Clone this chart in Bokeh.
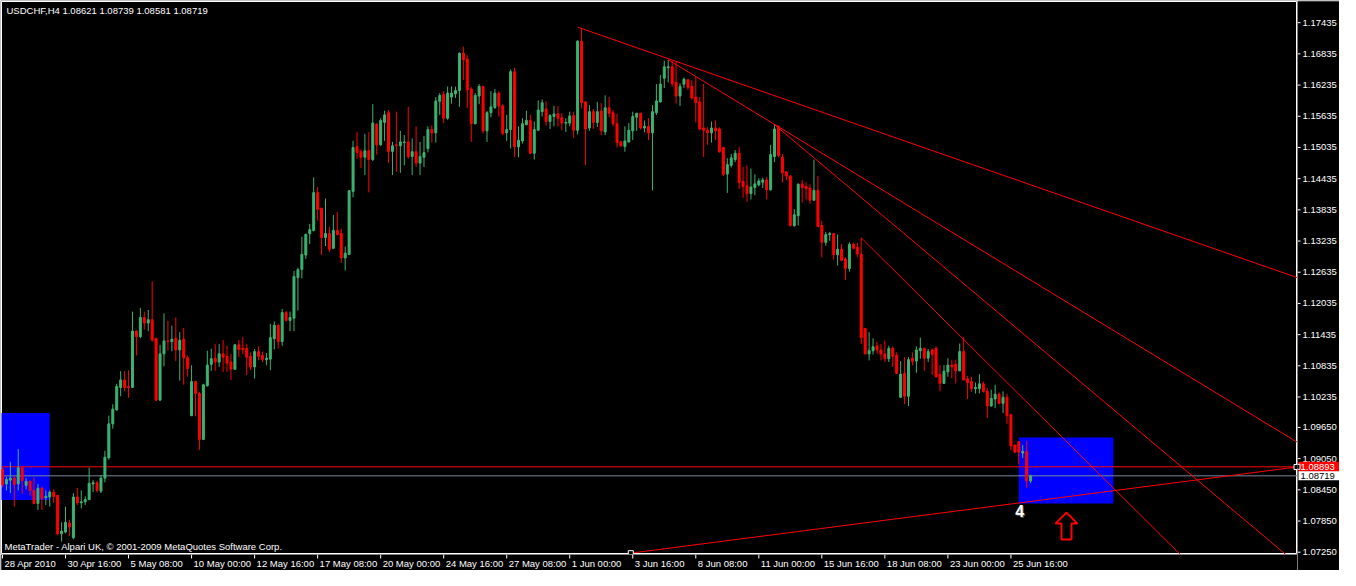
import pandas as pd
from bokeh.plotting import figure
from bokeh.layouts import column, row
from bokeh.models import Range1d, Label, ColumnDataSource
from bokeh.core.properties import value
from bokeh.embed import file_html
from bokeh.resources import INLINE

symbol = "USDCHF,H4"
copyright_text = "MetaTrader - Alpari UK, \u00a9 2001-2009 MetaQuotes Software Corp."

opens = [
    1.08843, 1.08562, 1.08637, 1.08675, 1.08562, 1.08875, 1.08537, 1.08613, 1.08438, 1.08187,
    1.08481, 1.08299, 1.08312, 1.08406, 1.08344, 1.07605, 1.07637, 1.07811, 1.07530, 1.08312,
    1.08200, 1.08219, 1.08262, 1.08562, 1.08588, 1.08425, 1.08675, 1.09063, 1.09719, 1.09988,
    1.10419, 1.10564, 1.10438, 1.10419, 1.11502, 1.11395, 1.11764, 1.11657, 1.11721, 1.11357,
    1.10175, 1.11065, 1.11314, 1.11301, 1.11365, 1.11140, 1.11346, 1.10989, 1.09875, 1.10532,
    1.10302, 1.09419, 1.10451, 1.10864, 1.10982, 1.10907, 1.11065, 1.11014, 1.10907, 1.10770,
    1.11239, 1.11170, 1.11170, 1.11014, 1.10813, 1.11108, 1.11033, 1.10952, 1.10963, 1.11357,
    1.11614, 1.11301, 1.11858, 1.11708, 1.11751, 1.12533, 1.12689, 1.12965, 1.13378, 1.13439,
    1.14166, 1.13865, 1.13303, 1.13378, 1.13096, 1.13439, 1.13378, 1.12909, 1.12978, 1.14190,
    1.15047, 1.14953, 1.14847, 1.14972, 1.14803, 1.15484, 1.15085, 1.15516, 1.15704, 1.14959,
    1.15085, 1.15066, 1.15128, 1.15141, 1.14860, 1.14953, 1.14734, 1.14847, 1.15015, 1.15379,
    1.15316, 1.15923, 1.16055, 1.15597, 1.16004, 1.16066, 1.16130, 1.16848, 1.16736, 1.16154,
    1.15492, 1.16023, 1.16210, 1.15354, 1.15704, 1.15803, 1.16079, 1.15835, 1.15316, 1.15379,
    1.16492, 1.15047, 1.15160, 1.15473, 1.15554, 1.14922, 1.15366, 1.15723, 1.15773, 1.15535,
    1.15629, 1.15680, 1.15604, 1.15503, 1.15503, 1.15648, 1.15366, 1.17079, 1.15910, 1.15409,
    1.15723, 1.15516, 1.15736, 1.15334, 1.15798, 1.15704, 1.15492, 1.15141, 1.15053, 1.15141,
    1.15354, 1.15616, 1.15691, 1.15409, 1.15441, 1.15316, 1.15704, 1.15910, 1.16366, 1.16567,
    1.16586, 1.16286, 1.16023, 1.16253, 1.16336, 1.16210, 1.16004, 1.15910, 1.15409, 1.15366,
    1.15316, 1.15409, 1.15391, 1.15034, 1.14522, 1.14691, 1.14803, 1.14922, 1.14378, 1.14297,
    1.14147, 1.14265, 1.14316, 1.14366, 1.14409, 1.14222, 1.14860, 1.15441, 1.14847, 1.14565,
    1.14484, 1.13528, 1.13721, 1.14329, 1.14284, 1.14254, 1.14021, 1.14209, 1.13533, 1.13209,
    1.13359, 1.13378, 1.12971, 1.13077, 1.12890, 1.12708, 1.13171, 1.13115, 1.12984, 1.11552,
    1.11065, 1.11126, 1.11220, 1.11140, 1.11065, 1.10971, 1.11170, 1.11033, 1.10231, 1.10689,
    1.10250, 1.10982, 1.10926, 1.11126, 1.11170, 1.10982, 1.11140, 1.11170, 1.10671, 1.10497,
    1.10719, 1.10849, 1.10864, 1.10738, 1.11108, 1.10582, 1.10532, 1.10395, 1.10395, 1.10489,
    1.10344, 1.10063, 1.10196, 1.10289, 1.10113, 1.10231, 1.09894, 1.09312, 1.09376, 1.09157,
    1.09188, 1.08621,
]
highs = [
    1.08875, 1.08701, 1.08988, 1.08719, 1.09232, 1.08888, 1.08675, 1.08637, 1.08688, 1.08562,
    1.08513, 1.08438, 1.08438, 1.08457, 1.08350, 1.07825, 1.08125, 1.07875, 1.08387, 1.08487,
    1.08438, 1.08325, 1.08875, 1.08637, 1.08626, 1.08738, 1.09200, 1.09875, 1.10095, 1.10489,
    1.10732, 1.10732, 1.10751, 1.11877, 1.11520, 1.11952, 1.11877, 1.11909, 1.12458, 1.11376,
    1.11239, 1.11845, 1.11702, 1.11608, 1.11764, 1.11483, 1.11564, 1.11033, 1.10845, 1.10551,
    1.10334, 1.10489, 1.11126, 1.11164, 1.11258, 1.11252, 1.11333, 1.11220, 1.11065, 1.11252,
    1.11333, 1.11389, 1.11252, 1.11095, 1.11158, 1.11208, 1.11108, 1.11083, 1.11644, 1.11689,
    1.11646, 1.11928, 1.11890, 1.11877, 1.12659, 1.12721, 1.13316, 1.13378, 1.13565, 1.14460,
    1.14273, 1.13879, 1.14053, 1.13503, 1.13734, 1.13796, 1.13471, 1.13128, 1.14215, 1.15160,
    1.15329, 1.15001, 1.15297, 1.15329, 1.15867, 1.15503, 1.15597, 1.15741, 1.15754, 1.15141,
    1.15723, 1.15354, 1.15272, 1.15816, 1.15210, 1.15441, 1.15141, 1.15254, 1.15441, 1.15460,
    1.16004, 1.16079, 1.16117, 1.16205, 1.16210, 1.16205, 1.16860, 1.16974, 1.16805, 1.16192,
    1.16079, 1.16253, 1.16223, 1.15736, 1.16117, 1.16160, 1.16117, 1.15867, 1.15661, 1.16535,
    1.16567, 1.15441, 1.15597, 1.15741, 1.15661, 1.15535, 1.15942, 1.15961, 1.15923, 1.15674,
    1.15835, 1.15830, 1.15691, 1.15597, 1.15723, 1.15723, 1.17098, 1.17317, 1.15920, 1.15848,
    1.15773, 1.15910, 1.15891, 1.16036, 1.16004, 1.15754, 1.15680, 1.15160, 1.15441, 1.15503,
    1.15723, 1.15704, 1.15704, 1.15554, 1.15597, 1.15848, 1.16253, 1.16430, 1.16704, 1.16722,
    1.16704, 1.16693, 1.16266, 1.16379, 1.16347, 1.16329, 1.16398, 1.16004, 1.16253, 1.15422,
    1.15535, 1.15554, 1.15422, 1.15045, 1.14828, 1.14910, 1.14985, 1.15047, 1.14659, 1.14691,
    1.14629, 1.14516, 1.14441, 1.14453, 1.14471, 1.15085, 1.15473, 1.15454, 1.14910, 1.14578,
    1.14503, 1.13847, 1.14340, 1.14409, 1.14366, 1.14329, 1.14803, 1.14484, 1.13627, 1.13410,
    1.13410, 1.13391, 1.13359, 1.13177, 1.12922, 1.13209, 1.13203, 1.13203, 1.13297, 1.11564,
    1.11483, 1.11365, 1.11301, 1.11252, 1.11314, 1.11220, 1.11201, 1.11095, 1.10926, 1.11001,
    1.11001, 1.11095, 1.11208, 1.11376, 1.11183, 1.11158, 1.11170, 1.11208, 1.10845, 1.10849,
    1.10982, 1.10952, 1.10952, 1.11263, 1.11389, 1.10639, 1.10625, 1.10513, 1.10676, 1.10532,
    1.10408, 1.10376, 1.10470, 1.10325, 1.10344, 1.10301, 1.09905, 1.09320, 1.09387, 1.09312,
    1.09387, 1.08739,
]
lows = [
    1.08500, 1.08438, 1.08387, 1.08125, 1.08438, 1.08374, 1.08462, 1.08337, 1.08181, 1.08063,
    1.08063, 1.08157, 1.08125, 1.08200, 1.07575, 1.07455, 1.07613, 1.07562, 1.07500, 1.08157,
    1.08093, 1.08157, 1.08250, 1.08406, 1.08406, 1.08387, 1.08594, 1.09031, 1.09626, 1.09969,
    1.10250, 1.10344, 1.10220, 1.10408, 1.11033, 1.11365, 1.11533, 1.11502, 1.11301, 1.10156,
    1.10170, 1.10826, 1.11126, 1.11113, 1.10926, 1.10551, 1.10470, 1.10625, 1.09869, 1.09864,
    1.09218, 1.09406, 1.10438, 1.10738, 1.10738, 1.10813, 1.10719, 1.10719, 1.10564, 1.10751,
    1.11001, 1.11065, 1.10657, 1.10751, 1.10588, 1.10939, 1.10907, 1.10845, 1.10751, 1.11151,
    1.11170, 1.11220, 1.11689, 1.11502, 1.11502, 1.11896, 1.12515, 1.12890, 1.13177, 1.13420,
    1.13627, 1.12965, 1.13139, 1.13027, 1.13077, 1.13346, 1.12815, 1.12670, 1.12965, 1.14077,
    1.14816, 1.14640, 1.14503, 1.14171, 1.14772, 1.14897, 1.15070, 1.15160, 1.14734, 1.14503,
    1.14565, 1.14547, 1.14691, 1.14816, 1.14503, 1.14659, 1.14503, 1.14659, 1.14940, 1.15128,
    1.15128, 1.15661, 1.15503, 1.15567, 1.15878, 1.15989, 1.15816, 1.16329, 1.15798, 1.15141,
    1.15480, 1.15867, 1.15304, 1.15141, 1.15616, 1.15773, 1.15629, 1.15267, 1.15160, 1.15015,
    1.14847, 1.14847, 1.15109, 1.15460, 1.14910, 1.14803, 1.15354, 1.15629, 1.15454, 1.15391,
    1.15441, 1.15441, 1.15366, 1.15334, 1.15441, 1.15222, 1.15286, 1.15784, 1.14691, 1.15354,
    1.15391, 1.15428, 1.15272, 1.15272, 1.15616, 1.15441, 1.15034, 1.15047, 1.14953, 1.15128,
    1.15179, 1.15354, 1.15379, 1.15329, 1.15179, 1.14209, 1.15661, 1.15900, 1.16178, 1.16286,
    1.16205, 1.15878, 1.15835, 1.16178, 1.16141, 1.15961, 1.15516, 1.15366, 1.14847, 1.15085,
    1.15128, 1.15179, 1.14935, 1.14484, 1.14160, 1.14648, 1.14753, 1.14235, 1.14066, 1.13991,
    1.14034, 1.14115, 1.14284, 1.14254, 1.14034, 1.14203, 1.14753, 1.14847, 1.14359, 1.14409,
    1.13515, 1.13515, 1.13533, 1.13972, 1.14034, 1.13953, 1.14006, 1.13503, 1.12922, 1.13147,
    1.13241, 1.12877, 1.12764, 1.12847, 1.12483, 1.12646, 1.13077, 1.12927, 1.11252, 1.11051,
    1.10939, 1.11051, 1.11065, 1.10939, 1.10907, 1.10907, 1.10813, 1.10676, 1.10220, 1.10095,
    1.10063, 1.10845, 1.10701, 1.10971, 1.10738, 1.10907, 1.10657, 1.10610, 1.10344, 1.10489,
    1.10625, 1.10596, 1.10497, 1.10732, 1.10551, 1.10196, 1.10334, 1.10302, 1.10302, 1.10321,
    1.09832, 1.10048, 1.10020, 1.10095, 1.09926, 1.09719, 1.09218, 1.09157, 1.08937, 1.09063,
    1.08487, 1.08581,
]
closes = [
    1.08543, 1.08650, 1.08675, 1.08551, 1.08875, 1.08626, 1.08613, 1.08438, 1.08187, 1.08481,
    1.08280, 1.08325, 1.08406, 1.08325, 1.07605, 1.07656, 1.07825, 1.07736, 1.08312, 1.08200,
    1.08219, 1.08262, 1.08575, 1.08588, 1.08438, 1.08675, 1.09076, 1.09719, 1.10001, 1.10438,
    1.10564, 1.10419, 1.10419, 1.11502, 1.11395, 1.11764, 1.11657, 1.11721, 1.11333, 1.10175,
    1.11065, 1.11314, 1.11301, 1.11346, 1.11140, 1.11327, 1.10989, 1.10783, 1.10532, 1.10302,
    1.09419, 1.10470, 1.10849, 1.10971, 1.10907, 1.11065, 1.11001, 1.10888, 1.10770, 1.11239,
    1.11151, 1.11151, 1.11001, 1.10813, 1.11108, 1.11020, 1.10958, 1.10982, 1.11376, 1.11614,
    1.11301, 1.11858, 1.11708, 1.11764, 1.12552, 1.12684, 1.12978, 1.13364, 1.13453, 1.14166,
    1.13847, 1.13303, 1.13378, 1.13077, 1.13439, 1.13359, 1.12909, 1.13002, 1.14203, 1.15034,
    1.14940, 1.14847, 1.14972, 1.14803, 1.15503, 1.15085, 1.15554, 1.15661, 1.14959, 1.15066,
    1.15072, 1.15141, 1.15141, 1.14860, 1.14953, 1.14734, 1.14860, 1.14935, 1.15379, 1.15316,
    1.15929, 1.16036, 1.15597, 1.16079, 1.16079, 1.16130, 1.16848, 1.16722, 1.16141, 1.15492,
    1.16036, 1.16210, 1.15354, 1.15704, 1.15816, 1.16079, 1.15830, 1.15304, 1.15379, 1.16492,
    1.15047, 1.15173, 1.15492, 1.15554, 1.14922, 1.15379, 1.15754, 1.15894, 1.15535, 1.15648,
    1.15680, 1.15597, 1.15503, 1.15516, 1.15642, 1.15366, 1.17079, 1.15897, 1.15391, 1.15723,
    1.15516, 1.15723, 1.15354, 1.15798, 1.15691, 1.15492, 1.15128, 1.15066, 1.15160, 1.15366,
    1.15629, 1.15691, 1.15409, 1.15441, 1.15316, 1.15723, 1.15929, 1.16253, 1.16586, 1.16586,
    1.16266, 1.16023, 1.16205, 1.16347, 1.16192, 1.15985, 1.15897, 1.15391, 1.15366, 1.15316,
    1.15409, 1.15354, 1.14953, 1.14516, 1.14704, 1.14835, 1.14922, 1.14359, 1.14284, 1.14147,
    1.14273, 1.14334, 1.14391, 1.14409, 1.14222, 1.14897, 1.15391, 1.14878, 1.14547, 1.14484,
    1.13533, 1.13740, 1.14329, 1.14265, 1.14241, 1.14021, 1.14209, 1.13515, 1.13209, 1.13359,
    1.13378, 1.12971, 1.13077, 1.12865, 1.12708, 1.13171, 1.13096, 1.12989, 1.11376, 1.11065,
    1.11126, 1.11201, 1.11140, 1.11065, 1.10971, 1.11170, 1.11020, 1.10689, 1.10676, 1.10250,
    1.10952, 1.10920, 1.11140, 1.11170, 1.10982, 1.11108, 1.11051, 1.10625, 1.10497, 1.10732,
    1.10849, 1.10813, 1.10738, 1.11108, 1.10564, 1.10513, 1.10395, 1.10419, 1.10489, 1.10344,
    1.10063, 1.10207, 1.10289, 1.10113, 1.10231, 1.09875, 1.09294, 1.09175, 1.09175, 1.09188,
    1.08621, 1.08719,
]

x_tick_labels = ["28 Apr 2010", "30 Apr 16:00", "5 May 08:00", "10 May 00:00", "12 May 16:00",
                 "17 May 08:00", "20 May 00:00", "24 May 16:00", "27 May 08:00", "1 Jun 00:00",
                 "3 Jun 16:00", "8 Jun 08:00", "11 Jun 00:00", "15 Jun 16:00", "18 Jun 08:00",
                 "23 Jun 00:00", "25 Jun 16:00"]
y_ticks = [1.17435, 1.16835, 1.16235, 1.15635, 1.15035, 1.14435, 1.13835, 1.13235, 1.12635,
           1.12035, 1.11435, 1.10835, 1.10235, 1.09650, 1.09050, 1.08450, 1.07850, 1.07250]

# chart objects (bar index / price)
zone_left = [-2, 258]
zone_right = [12, 282]
zone_top = [1.09926, 1.09457]
zone_bottom = [1.08256, 1.08187]

trend_x0 = [146, 169, 196, 218, 159.5]
trend_y0 = [1.17349, 1.16722, 1.15473, 1.13297, 1.07232]
trend_x1 = [340, 340, 330, 300, 328.5]
trend_y1 = [1.12233, 1.08844, 1.06937, 1.07131, 1.08888]

ask_level = 1.08893
bid_level = closes[-1]
wave_label = "4"
wave_x, wave_y = 258.2, 1.08050
arrow_x, arrow_y = 270.1, 1.08012

# ---------------------------------------------------------------
n = len(opens)
days = pd.bdate_range("2010-04-28", "2010-07-02")
bar_times = [d + pd.Timedelta(hours=4 * k) for d in days for k in range(6)][:n]


def label_time(s):
    if s.endswith("2010"):
        return pd.to_datetime(s, format="%d %b %Y")
    return pd.to_datetime(s + " 2010", format="%d %b %H:%M %Y")


x_tick_pos = [bar_times.index(label_time(s)) for s in x_tick_labels]

FW, FH = 1296, 553
RW, BH = 42, 16
X0, X1 = -0.25, 328.75
Y0, Y1 = 1.07206, 1.17842
FONT = "Liberation Sans"
FS = "9.5px"
dxp = (X1 - X0) / FW
dyp = (Y1 - Y0) / FH
common = dict(output_backend="svg", toolbar_location=None, x_axis_location=None,
              y_axis_location=None, background_fill_color="black", border_fill_color="black",
              min_border_left=0, min_border_right=0, min_border_top=0, min_border_bottom=0)

# ---------------- main price panel
p = figure(frame_width=FW, frame_height=FH, x_range=Range1d(X0, X1), y_range=Range1d(Y0, Y1),
           **common)
p.min_border_left = 1
p.min_border_top = 1
p.outline_line_color = "white"
p.outline_line_width = 1
p.grid.visible = False

p.quad(left=zone_left, right=zone_right, top=zone_top, bottom=zone_bottom,
       fill_color="#0000FF", line_color=None)

p.segment(x0=[X0, X0], x1=[X1, X1], y0=[ask_level, bid_level], y1=[ask_level, bid_level],
          line_color=["#FF0000", "#778899"], line_width=1)

up_col, dn_col = "#3CB371", "#FF0000"
src = ColumnDataSource(dict(
    x=list(range(n)), o=opens, h=highs, l=lows, c=closes,
    top=[max(a, b) for a, b in zip(opens, closes)],
    bottom=[min(a, b) for a, b in zip(opens, closes)],
    color=[up_col if c >= o else dn_col for o, c in zip(opens, closes)],
))
p.segment(x0="x", x1="x", y0="h", y1="l", source=src, line_color="color", line_width=1)
p.vbar(x="x", width=0.5, top="top", bottom="bottom", source=src,
       fill_color="color", line_color="color", line_width=1)

p.segment(x0=trend_x0, y0=trend_y0, x1=trend_x1, y1=trend_y1, line_color="#FF0000", line_width=1)
p.scatter(x=[trend_x0[4], trend_x1[4]], y=[trend_y0[4], trend_y1[4]], marker="square", size=5,
          fill_color="black", line_color="white", line_width=1)

shape = [(0, 0), (11, -11), (5, -11), (5, -27), (-5, -27), (-5, -11), (-11, -11)]
p.patch([arrow_x + sx * dxp for sx, sy in shape], [arrow_y + sy * dyp for sx, sy in shape],
        fill_alpha=0, line_color="#FF0000", line_width=2)

p.text(x=[wave_x], y=[wave_y], text=[wave_label], text_color="#555555", text_font=value(FONT),
       text_font_style="bold", text_font_size="16px", text_align="center",
       text_baseline="middle", x_offset=1, y_offset=1)
p.text(x=[wave_x], y=[wave_y], text=[wave_label], text_color="white", text_font=value(FONT),
       text_font_style="bold", text_font_size="16px", text_align="center",
       text_baseline="middle")

header = f"{symbol}  {opens[-1]:.5f} {highs[-1]:.5f} {lows[-1]:.5f} {closes[-1]:.5f}"
p.add_layout(Label(x=5, y=FH - 9, x_units="screen", y_units="screen", text=header,
                   text_color="white", text_font=FONT, text_font_size=FS, text_baseline="middle"))
p.add_layout(Label(x=3, y=8, x_units="screen", y_units="screen", text=copyright_text,
                   text_color="white", text_font=FONT, text_font_size=FS, text_baseline="middle"))

# ---------------- right price scale (same price-per-pixel, extends below the chart)
pr = figure(frame_width=RW, frame_height=FH + BH, x_range=Range1d(0, RW),
            y_range=Range1d(Y0 - BH * dyp, Y1), **common)
pr.min_border_top = 1
pr.outline_line_color = None
pr.grid.visible = False
m = len(y_ticks)
pr.segment(x0=[0] * m, x1=[3] * m, y0=y_ticks, y1=y_ticks, line_color="white", line_width=1)
pr.text(x=[5] * m, y=y_ticks, text=[f"{t:.5f}" for t in y_ticks], text_color="white",
        text_font=value(FONT), text_font_size=FS, text_baseline="middle", text_align="left")
pr.rect(x=[(RW + 1) / 2] * 2, y=[ask_level, bid_level], width=RW - 1, height=[10, 9],
        height_units="screen", fill_color=["#FF0000", "white"], line_color=None)
pr.text(x=[3, 3], y=[ask_level, bid_level], text=[f"{ask_level:.5f}", f"{bid_level:.5f}"],
        text_color=["white", "black"], text_font=value(FONT), text_font_size=FS,
        text_baseline="middle", text_align="left")
pr.scatter(x=[0], y=[ask_level], marker="square", size=5, fill_color="black", line_color="white")

# ---------------- bottom time scale
pb = figure(frame_width=FW, frame_height=BH, x_range=p.x_range, y_range=Range1d(0, BH), **common)
pb.min_border_left = 1
pb.outline_line_color = None
pb.grid.visible = False
k = len(x_tick_pos)
pb.segment(x0=x_tick_pos, x1=x_tick_pos, y0=[BH] * k, y1=[BH - 4] * k, line_color="white",
           line_width=1)
pb.text(x=x_tick_pos, y=[BH - 3] * k, text=x_tick_labels, x_offset=2, text_color="white",
        text_font=value(FONT), text_font_size=FS, text_baseline="top", text_align="left")

layout = row(column(p, pb), pr)
open("out.html", "w").write(file_html(layout, INLINE))
